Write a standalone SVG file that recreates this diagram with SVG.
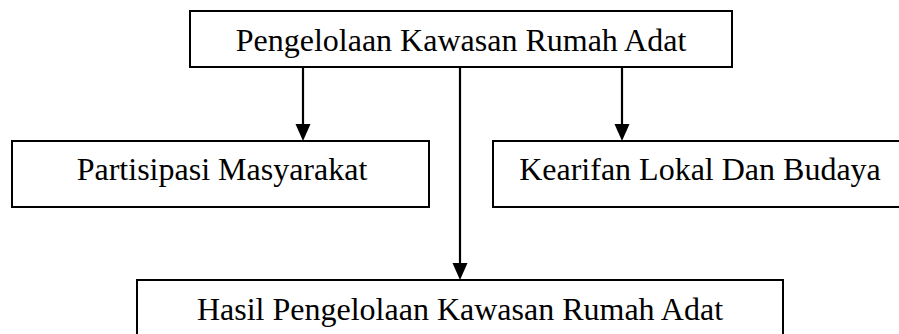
<svg xmlns="http://www.w3.org/2000/svg" width="899" height="334" viewBox="0 0 899 334">
<defs>
<style>
.box{fill:#fff;stroke:#000;stroke-width:2}
.lbl{font-family:"Liberation Serif","Times New Roman",serif;font-size:32px;fill:#000;text-anchor:middle}
.conn{stroke:#000;stroke-width:2.2;fill:none;marker-end:url(#ah)}
</style>
<marker id="ah" markerUnits="userSpaceOnUse" markerWidth="18" markerHeight="16" viewBox="0 0 18 16" refX="2" refY="8" orient="auto">
<path d="M0,0.5 L17,8 L0,15.5 Z" fill="#000"/>
</marker>
</defs>
<rect width="899" height="334" fill="#fff"/>
<g id="connectors">
<line class="conn" x1="303" y1="67" x2="303" y2="126"/>
<line class="conn" x1="622" y1="67" x2="622" y2="126"/>
<line class="conn" x1="460" y1="67" x2="460" y2="265"/>
</g>
<g id="node-top">
<rect class="box" x="190" y="11" width="542" height="56"/>
<text class="lbl" x="461" y="51">Pengelolaan Kawasan Rumah Adat</text>
</g>
<g id="node-partisipasi">
<rect class="box" x="12" y="141" width="417" height="66"/>
<text class="lbl" x="222" y="180">Partisipasi Masyarakat</text>
</g>
<g id="node-kearifan">
<rect class="box" x="493" y="141" width="414" height="66"/>
<text class="lbl" x="700" y="180">Kearifan Lokal Dan Budaya</text>
</g>
<g id="node-hasil">
<rect class="box" x="137" y="280" width="646" height="70"/>
<text class="lbl" x="460" y="320">Hasil Pengelolaan Kawasan Rumah Adat</text>
</g>
</svg>
